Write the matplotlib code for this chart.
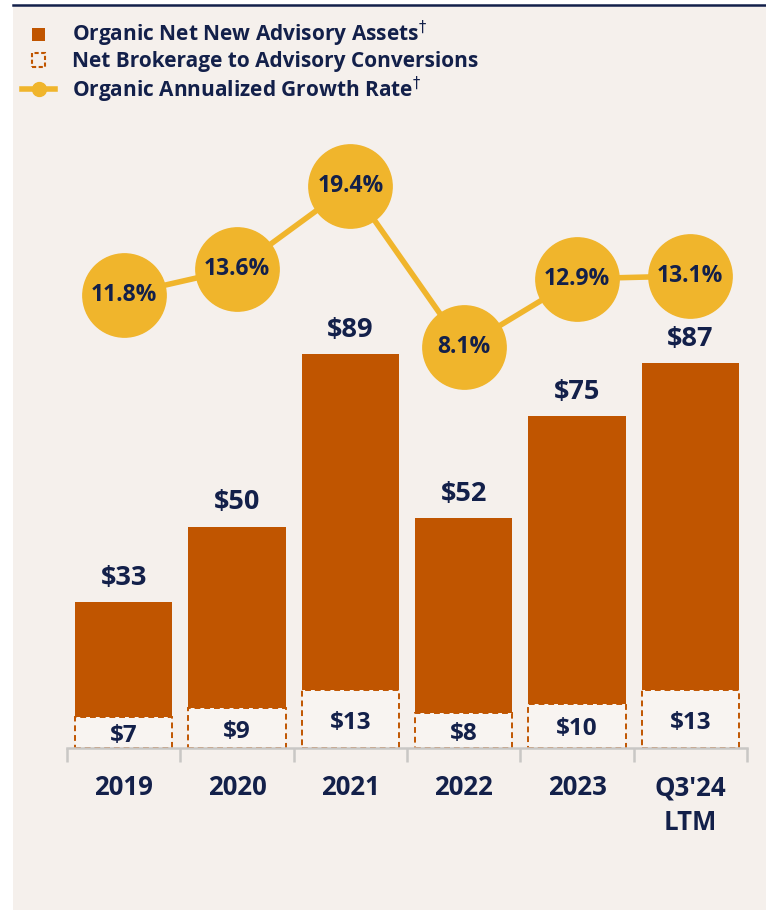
import matplotlib
matplotlib.use("Agg")
import matplotlib.pyplot as plt
from matplotlib.patches import Rectangle, Patch
from matplotlib.lines import Line2D
from matplotlib.legend_handler import HandlerPatch

categories = ["2019", "2020", "2021", "2022", "2023", "Q3'24\nLTM"]
organic_total = [33, 50, 89, 52, 75, 87]
conversions = [7, 9, 13, 8, 10, 13]
growth_rate = [11.8, 13.6, 19.4, 8.1, 12.9, 13.1]
legend_labels = ["Organic Net New Advisory Assets$^{\\dagger}$",
                 "Net Brokerage to Advisory Conversions",
                 "Organic Annualized Growth Rate$^{\\dagger}$"]

ORANGE = "#c05500"
YELLOW = "#f0b52c"
BG = "#f5f0ec"
NAVY = "#13204a"
GRAY = "#c9c7c5"

plt.rcParams['font.family'] = ['Open Sans', 'DejaVu Sans']
plt.rcParams['mathtext.fontset'] = 'dejavusans'

fig = plt.figure(figsize=(7.66, 9.10), dpi=100)
fig.patch.set_facecolor("white")
fig.add_artist(Rectangle((13/766, 0), 1 - 13/766, 904/910, transform=fig.transFigure,
                         facecolor=BG, edgecolor="none", zorder=-10))
fig.add_artist(Line2D([13/766, 1], [905/910, 905/910], transform=fig.transFigure,
                      color=NAVY, lw=1.8, zorder=-5))

ax = fig.add_axes([67/766, 162/910, 680/766, 628/910])
ax.set_facecolor("none")
x = list(range(len(categories)))
w = 0.86

upper = [t - c for t, c in zip(organic_total, conversions)]
ax.bar(x, conversions, width=w, facecolor="#f8f4f1", edgecolor=ORANGE, linestyle=(0, (3, 2)),
       linewidth=1.4, zorder=2)
ax.bar(x, upper, bottom=conversions, width=w, color=ORANGE, zorder=3)

for xi, t, c in zip(x, organic_total, conversions):
    ax.text(xi, t + 2.5, f"${t}", ha="center", va="bottom", fontsize=19.5, fontweight="bold", color=NAVY)
    ax.text(xi, c / 2 - 0.8, f"${c}", ha="center", va="center", fontsize=17.5, fontweight="bold", color=NAVY, zorder=4)

ax.set_xlim(-0.5, len(categories) - 0.5)
ax.set_ylim(0, 141.8)
for s in ["top", "right", "left"]:
    ax.spines[s].set_visible(False)
ax.spines["bottom"].set_color(GRAY)
ax.spines["bottom"].set_linewidth(1.8)
ax.spines["bottom"].set_zorder(3.5)
ax.set_yticks([])
ax.set_xticks([i - 0.5 for i in range(len(categories) + 1)], minor=False)
ax.set_xticklabels([])
ax.tick_params(axis="x", length=10, width=1.8, color=GRAY, direction="out")
ax.set_xticks(x, minor=True)
ax.set_xticklabels(categories, minor=True, fontsize=18.5, fontweight="bold", color=NAVY,
                   linespacing=1.38, va="top")
ax.tick_params(axis="x", which="minor", length=0, pad=19)

ax2 = ax.twinx()
ax2.set_ylim(-19.9, 24.0)
ax2.axis("off")
ax2.plot(x, growth_rate, color=YELLOW, lw=4, marker="o", markersize=60, zorder=5)
for xi, g in zip(x, growth_rate):
    ax2.text(xi, g, f"{g}%", ha="center", va="center", fontsize=16.5, fontweight="bold", color=NAVY, zorder=6)


def square_patch(legend, orig_handle, xdescent, ydescent, width, height, fontsize):
    s = height * 0.9
    return Rectangle((xdescent + (width - s) / 2, ydescent + (height - s) / 2), s, s)


handles = [Patch(facecolor=ORANGE, edgecolor="none"),
           Patch(facecolor=BG, edgecolor=ORANGE, linestyle=(0, (2, 1.2)), linewidth=1.5),
           Line2D([0], [0], color=YELLOW, lw=4, marker="o", markersize=10)]
leg = fig.legend(handles, legend_labels, loc="upper left", bbox_to_anchor=(22/766, 1 - 19/910),
                 frameon=False, fontsize=15, handlelength=1.6, handleheight=0.7, handletextpad=0.8,
                 labelspacing=0.1, borderpad=0, borderaxespad=0,
                 handler_map={Patch: HandlerPatch(patch_func=square_patch)})
for t in leg.get_texts():
    t.set_color(NAVY)
    t.set_fontweight("bold")

fig.savefig("out.png", dpi=100, facecolor=fig.get_facecolor())
